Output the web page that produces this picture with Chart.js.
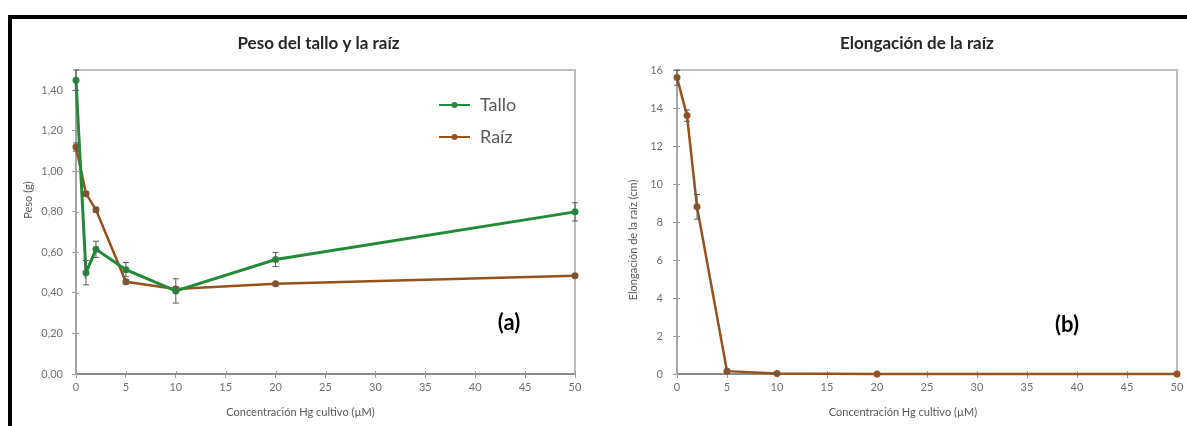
<!DOCTYPE html>
<html lang="es">
<head>
<meta charset="utf-8">
<title>Peso y elongación frente a Hg</title>
<script src="https://cdn.jsdelivr.net/npm/chart.js@4.4.1/dist/chart.umd.min.js"></script>
<style>
  html, body { margin: 0; padding: 0; background: #fff; }
  #marco { position: relative; width: 1187px; height: 426px; overflow: hidden; background: #fff; }
  #marco .borde-sup { position: absolute; left: 8px; top: 15px; width: 1179px; height: 4px; background: #000; }
  #marco .borde-izq { position: absolute; left: 8px; top: 15px; width: 4px; height: 411px; background: #000; }
  .panel { position: absolute; top: 19px; }
  #panelA { left: 12px; }
  #panelB { left: 597px; }
</style>
</head>
<body>
<div id="marco">
  <div class="borde-sup"></div>
  <div class="borde-izq"></div>
  <div class="panel" id="panelA"><canvas id="graficoA" width="585" height="407"></canvas></div>
  <div class="panel" id="panelB"><canvas id="graficoB" width="590" height="407"></canvas></div>
</div>
<script>
// Concentración de Hg en el cultivo (µM)
const concentracion = [0, 1, 2, 5, 10, 20, 50];

// Peso (g) del tallo y de la raíz, con su error
const pesoTallo = [1.45, 0.50, 0.615, 0.515, 0.41, 0.565, 0.80];
const errTallo  = [0.05, 0.06, 0.04, 0.035, 0.06, 0.035, 0.045];
const pesoRaiz  = [1.12, 0.89, 0.81, 0.455, 0.42, 0.445, 0.485];
const errRaiz   = [0.02, 0.01, 0.01, 0.01, 0.01, 0.005, 0.005];

// Elongación de la raíz (cm), con su error
const elongacion = [15.6, 13.6, 8.8, 0.15, 0.03, 0.0, 0.0];
const errElong   = [0.4, 0.3, 0.65, 0.1, 0.02, 0, 0];

// Marcas de los ejes
const marcasPeso = [0, 0.2, 0.4, 0.6, 0.8, 1.0, 1.2, 1.4];
const marcasElong = [0, 2, 4, 6, 8, 10, 12, 14, 16];
const marcasConc = [0, 5, 10, 15, 20, 25, 30, 35, 40, 45, 50];

const VERDE = '#238a3a';
const MARRON = '#95521f';
const FUENTE = 'Lato, "Open Sans", sans-serif';

const puntos = (ys) => concentracion.map((x, i) => ({ x, y: ys[i] }));

// Marco gris del área de trazado (lados superior y derecho) y marcas que cruzan los ejes
const marcoArea = {
  id: 'marcoArea',
  beforeDatasetsDraw(chart) {
    const { ctx, chartArea: a, scales: { x, y } } = chart;
    ctx.save();
    ctx.strokeStyle = '#bdbdbd';
    ctx.lineWidth = 2;
    ctx.beginPath();
    ctx.moveTo(a.left, a.top);
    ctx.lineTo(a.right, a.top);
    ctx.lineTo(a.right, a.bottom);
    ctx.stroke();
    ctx.strokeStyle = '#9a9a9a';
    ctx.lineWidth = 1;
    ctx.beginPath();
    x.ticks.forEach((t) => {
      const px = Math.round(x.getPixelForValue(t.value)) + 0.5;
      ctx.moveTo(px, a.bottom); ctx.lineTo(px, a.bottom - 3);
    });
    y.ticks.forEach((t) => {
      const py = Math.round(y.getPixelForValue(t.value)) + 0.5;
      ctx.moveTo(a.left, py); ctx.lineTo(a.left + 3, py);
    });
    ctx.stroke();
    ctx.restore();
  }
};

// Barras de error verticales con remate
const barrasError = {
  id: 'barrasError',
  afterDatasetsDraw(chart) {
    const { ctx, scales: { x, y } } = chart;
    chart.data.datasets.forEach((ds) => {
      if (!ds.errores) return;
      ctx.save();
      ctx.strokeStyle = '#5a5a5a';
      ctx.lineWidth = 1;
      ds.data.forEach((p, j) => {
        const e = ds.errores[j];
        if (!e) return;
        const px = x.getPixelForValue(p.x);
        const y1 = y.getPixelForValue(p.y + e);
        const y2 = y.getPixelForValue(p.y - e);
        ctx.beginPath();
        ctx.moveTo(px, y1); ctx.lineTo(px, y2);
        ctx.moveTo(px - 3, y1); ctx.lineTo(px + 3, y1);
        ctx.moveTo(px - 3, y2); ctx.lineTo(px + 3, y2);
        ctx.stroke();
      });
      ctx.restore();
    });
  }
};

// Títulos, rótulos de ejes, leyenda y letra del panel
const rotulos = {
  id: 'rotulos',
  afterDraw(chart, args, o) {
    const { ctx, chartArea: a } = chart;
    const cx = (a.left + a.right) / 2;
    const cy = (a.top + a.bottom) / 2;
    ctx.save();
    ctx.textAlign = 'center';
    ctx.textBaseline = 'middle';

    ctx.font = 'bold 17px ' + FUENTE;
    ctx.fillStyle = '#262626';
    ctx.fillText(o.titulo, cx + o.tituloDx, o.tituloY);

    ctx.font = '11px ' + FUENTE;
    ctx.fillStyle = '#595959';
    ctx.fillText(o.ejeX, cx + o.ejeXDx, a.bottom + o.ejeXDy);

    ctx.save();
    ctx.translate(o.ejeYX, cy + o.ejeYDy);
    ctx.rotate(-Math.PI / 2);
    ctx.fillText(o.ejeY, 0, 0);
    ctx.restore();

    ctx.font = 'bold 22px ' + FUENTE;
    ctx.fillStyle = '#000';
    ctx.fillText(o.letra, o.letraX, o.letraY);

    if (o.leyenda) {
      const L = o.leyenda;
      chart.data.datasets.forEach((ds, i) => {
        const y = L.y + i * L.paso;
        ctx.strokeStyle = ds.borderColor;
        ctx.lineWidth = 2;
        ctx.beginPath();
        ctx.moveTo(L.x, y);
        ctx.lineTo(L.x + 31, y);
        ctx.stroke();
        ctx.fillStyle = ds.borderColor;
        ctx.beginPath();
        ctx.arc(L.x + 15.5, y, 3, 0, Math.PI * 2);
        ctx.fill();
        ctx.font = '18px ' + FUENTE;
        ctx.fillStyle = '#595959';
        ctx.textAlign = 'left';
        ctx.fillText(ds.label, L.x + 41, y);
      });
    }
    ctx.restore();
  }
};

function serie(label, ys, errores, color, ancho) {
  return {
    label,
    data: puntos(ys),
    errores,
    borderColor: color,
    backgroundColor: color,
    borderWidth: ancho,
    pointRadius: 3.5,
    pointBorderWidth: 0,
    pointBackgroundColor: color,
    tension: 0,
    clip: false
  };
}

function ejeX(alto) {
  return {
    type: 'linear',
    min: 0, max: 50,
    afterBuildTicks: (s) => { s.ticks = marcasConc.map((v) => ({ value: v })); },
    afterFit: (s) => { s.height = alto; },
    border: { display: true, color: '#8c8c8c', width: 2 },
    grid: { drawOnChartArea: false, drawTicks: true, tickLength: 4, color: '#9a9a9a' },
    ticks: { color: '#707070', padding: 3, font: { family: FUENTE, size: 11 } }
  };
}

function ejeY(min, max, marcas, ancho, formato, relleno) {
  return {
    type: 'linear',
    min, max,
    afterBuildTicks: (s) => { s.ticks = marcas.map((v) => ({ value: v })); },
    afterFit: (s) => { s.width = ancho; },
    border: { display: true, color: '#a6a6a6', width: 2 },
    grid: { drawOnChartArea: false, drawTicks: true, tickLength: 4, color: '#9a9a9a' },
    ticks: { color: '#707070', padding: relleno, font: { family: FUENTE, size: 11 }, callback: formato }
  };
}

const comunes = {
  responsive: false,
  animation: false,
  events: []
};

new Chart(document.getElementById('graficoA'), {
  type: 'line',
  data: {
    datasets: [
      serie('Tallo', pesoTallo, errTallo, VERDE, 3),
      serie('Raíz', pesoRaiz, errRaiz, MARRON, 2.5)
    ]
  },
  options: {
    ...comunes,
    layout: { padding: { left: 0, right: 22, top: 51, bottom: 0 } },
    scales: {
      x: ejeX(52),
      y: ejeY(0, 1.5, marcasPeso, 64, (v) => Number(v).toFixed(2).replace('.', ','), 9)
    },
    plugins: {
      legend: { display: false },
      tooltip: { enabled: false },
      rotulos: {
        titulo: 'Peso del tallo y la raíz', tituloDx: -7, tituloY: 25,
        ejeX: 'Concentración Hg cultivo (µM)', ejeXDx: -25, ejeXDy: 38,
        ejeY: 'Peso (g)', ejeYX: 16, ejeYDy: -22,
        letra: '(a)', letraX: 497, letraY: 304,
        leyenda: { x: 427, y: 86, paso: 32 }
      }
    }
  },
  plugins: [marcoArea, barrasError, rotulos]
});

new Chart(document.getElementById('graficoB'), {
  type: 'line',
  data: {
    datasets: [
      serie('Elongación', elongacion, errElong, MARRON, 2.5)
    ]
  },
  options: {
    ...comunes,
    layout: { padding: { left: 0, right: 10, top: 51, bottom: 0 } },
    scales: {
      x: ejeX(52),
      y: ejeY(0, 16, marcasElong, 80, (v) => String(v), 10)
    },
    plugins: {
      legend: { display: false },
      tooltip: { enabled: false },
      rotulos: {
        titulo: 'Elongación de la raíz', tituloDx: -10, tituloY: 25,
        ejeX: 'Concentración Hg cultivo (µM)', ejeXDx: -24, ejeXDy: 38,
        ejeY: 'Elongación de la raíz (cm)', ejeYX: 36, ejeYDy: 18,
        letra: '(b)', letraX: 470, letraY: 306
      }
    }
  },
  plugins: [marcoArea, barrasError, rotulos]
});
</script>
</body>
</html>
